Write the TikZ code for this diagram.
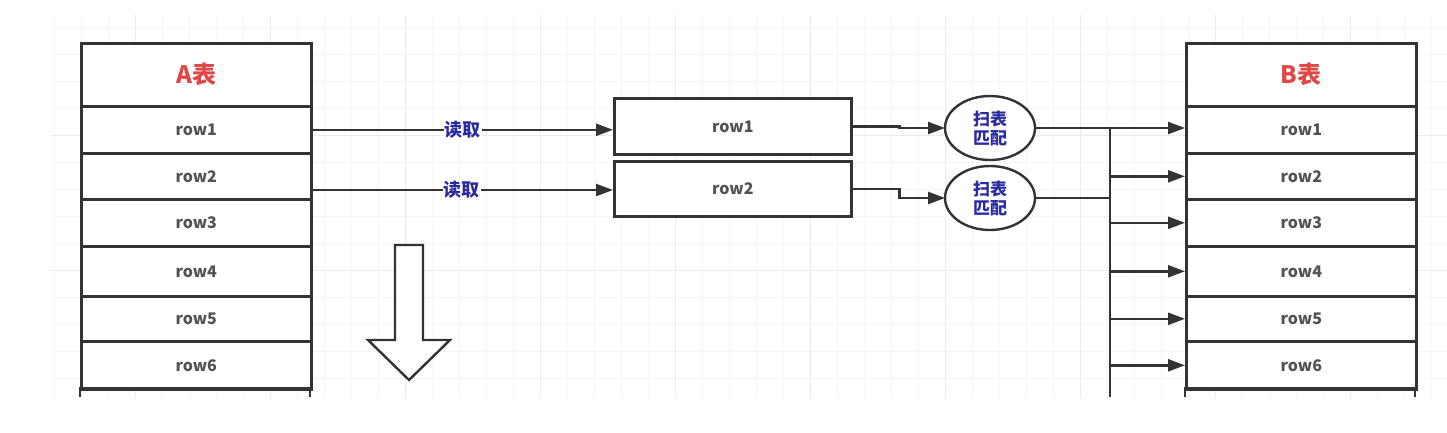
\documentclass[tikz,border=0pt]{standalone}
\usepackage{fontspec}
\setmainfont{Noto Sans CJK SC}
\usetikzlibrary{arrows.meta}
\definecolor{ln}{HTML}{333333}
\definecolor{lab}{HTML}{2B2BA0}
\definecolor{red1}{HTML}{E04848}
\begin{document}
\begin{tikzpicture}[x=1pt,y=-1pt,
  cell/.style={draw=ln,line width=2.6pt,fill=white,inner sep=0},
  rowtxt/.style={font=\fontsize{16}{16}\selectfont\bfseries,text=ln!85},
  conn/.style={draw=ln,line width=2.4pt,-{Triangle[length=17pt,width=12pt]}},
  plain/.style={draw=ln,line width=2.4pt},
  lbl/.style={font=\fontsize{18}{18}\selectfont\bfseries,text=lab,fill=white,inner sep=1pt}]
\useasboundingbox (0,0) rectangle (1447,432);
% grid
\begin{scope}
\clip (50,15) rectangle (1447,397);
\draw[black!4,line width=0.6pt] (0,0) grid[step=27pt] (1447,432);
\draw[black!8,line width=0.8pt] (0,0) grid[step=135pt] (1447,432);
\end{scope}
% tables
\foreach \t/\x/\h in {A/80/A, B/1185/B}{
  \node[cell,minimum width=230pt,minimum height=63pt,anchor=north west] (\t h) at (\x,42) {};
  \node[font=\fontsize{24}{24}\selectfont\bfseries,text=red1] at (\t h.center) {\h 表};
  \foreach \i/\a/\b in {1/105/152,2/152/198,3/198/245,4/245/295,5/295/340,6/340/388}{
    \node[cell,minimum width=230pt,minimum height={(\b-\a)*1pt},anchor=north west] (\t\i) at (\x,\a) {};
    \node[rowtxt] at (\t\i.center) {row\i};
  }
  \draw[ln,line width=2.6pt] (\x,397) -- (\x,388) -- (\x+230,388) -- (\x+230,397);
}
% middle boxes
\node[cell,minimum width=237pt,minimum height=56pt,anchor=north west] (m1) at (613,97) {};
\node[rowtxt] at (m1.center) {row1};
\node[cell,minimum width=237pt,minimum height=55pt,anchor=north west] (m2) at (613,160) {};
\node[rowtxt] at (m2.center) {row2};
% ellipses
\foreach \i/\y in {1/128,2/198}{
  \draw[ln,line width=2.4pt,fill=white] (990,\y) ellipse [x radius=45,y radius=32];
  \node[align=center,font=\fontsize{17}{19}\selectfont\bfseries,text=lab] (e\i) at (990,\y) {扫表\\匹配};
  \coordinate (e\i w) at (945,\y);
  \coordinate (e\i e) at (1035,\y);
}
% read arrows
\draw[conn] (A1.east) -- node[lbl]{读取} (A1.east -| m1.west);
\draw[conn] (310,190) -- node[lbl]{读取} (613,190);
\draw[conn] (m1.east) -- ++(47,0) |- (e1w);
\draw[conn] (m2.east) -- ++(47,0) |- (e2w);
% bus
\coordinate (bt) at (1110,128);
\coordinate (bb) at (1110,397);
\draw[plain] (bt) -- (bb);
\draw[conn] (e1e) -- (e1e -| B1.west);
\draw[plain] (e2e) -- (1110,198);
\foreach \i in {2,...,6}{ \draw[conn] (bt |- B\i.west) -- (B\i.west); }
% hollow arrow
\draw[ln,line width=2.4pt,fill=white,line join=miter] (395,245) -- (423,245) -- (423,340) -- (450,340) -- (409,380) -- (368,340) -- (395,340) -- cycle;
\end{tikzpicture}
\end{document}
